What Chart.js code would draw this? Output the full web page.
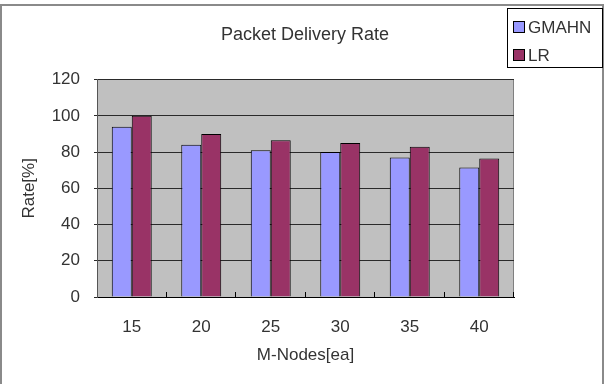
<!DOCTYPE html>
<html>
<head>
<meta charset="utf-8">
<title>Packet Delivery Rate</title>
<script src="https://cdn.jsdelivr.net/npm/chart.js@4"></script>
<style>
    body { margin: 0; background: #fff; }
    #wrap { width: 610px; height: 384px; }
</style>
</head>
<body>
<div id="wrap"><canvas id="rateChart" width="610" height="384"></canvas></div>
<script>
// Chart data
const categories = ['15', '20', '25', '30', '35', '40'];
const gmahnRates = [94, 84, 81, 80, 77, 71.5];
const lrRates = [100, 90, 86.5, 85, 83, 76.5];
const yMin = 0;
const yMax = 120;
const yStep = 20;

const textFont = { family: "'Liberation Sans', Arial, sans-serif", size: 17 };
const textColor = '#333';

// White page with grey frame, grey plot area
const frameAndPlot = {
    id: 'frameAndPlot',
    beforeDraw(chart) {
        const ctx = chart.ctx;
        const a = chart.chartArea;
        ctx.save();
        ctx.fillStyle = '#fff';
        ctx.fillRect(0, 0, chart.width, chart.height);
        ctx.strokeStyle = '#8a8a8a';
        ctx.lineWidth = 2;
        ctx.strokeRect(1, 5, 602, 390);
        ctx.fillStyle = '#c0c0c0';
        ctx.fillRect(a.left, a.top, a.right - a.left, a.bottom - a.top);
        ctx.strokeStyle = '#808080';
        ctx.lineWidth = 1;
        ctx.beginPath();
        ctx.moveTo(a.right - 0.5, a.top);
        ctx.lineTo(a.right - 0.5, a.bottom);
        ctx.stroke();
        ctx.restore();
    },
    // small inner tick marks between the categories
    afterDatasetsDraw(chart) {
        const ctx = chart.ctx;
        const x = chart.scales.x;
        const half = (x.getPixelForValue(1) - x.getPixelForValue(0)) / 2;
        const bottom = chart.chartArea.bottom;
        ctx.save();
        ctx.strokeStyle = '#000';
        ctx.lineWidth = 1;
        ctx.beginPath();
        for (let i = 0; i < categories.length; i++) {
            const px = Math.round(x.getPixelForValue(i) + half) - 0.5;
            ctx.moveTo(px, bottom);
            ctx.lineTo(px, bottom - 5);
        }
        ctx.stroke();
        ctx.restore();
    }
};

// Boxed legend in the top right corner
const boxLegend = {
    id: 'boxLegend',
    afterDraw(chart) {
        const ctx = chart.ctx;
        ctx.save();
        ctx.fillStyle = '#fff';
        ctx.fillRect(507, 8, 95, 59);
        ctx.strokeStyle = '#000';
        ctx.lineWidth = 1;
        ctx.strokeRect(507.5, 8.5, 95, 59);
        ctx.font = textFont.size + 'px ' + textFont.family;
        ctx.textBaseline = 'middle';
        chart.data.datasets.forEach(function(ds, i) {
            const y = 27 + i * 28;
            ctx.fillStyle = ds.backgroundColor;
            ctx.fillRect(513, y - 6, 11, 11);
            ctx.strokeStyle = '#000';
            ctx.strokeRect(513.5, y - 5.5, 11, 11);
            ctx.fillStyle = textColor;
            ctx.fillText(ds.label, 528, y + 1);
        });
        ctx.restore();
    }
};

const ctx = document.getElementById('rateChart').getContext('2d');
const rateChart = new Chart(ctx, {
    type: 'bar',
    data: {
        labels: categories,
        datasets: [
            {
                label: 'GMAHN',
                data: gmahnRates,
                backgroundColor: '#9999ff',
                borderColor: '#000',
                borderWidth: 1
            },
            {
                label: 'LR',
                data: lrRates,
                backgroundColor: '#993366',
                borderColor: '#000',
                borderWidth: 1
            }
        ]
    },
    options: {
        responsive: false,
        animation: false,
        categoryPercentage: 0.575,
        barPercentage: 1,
        layout: {
            padding: { left: 0, top: 0, right: 0, bottom: 0 }
        },
        plugins: {
            legend: { display: false },
            tooltip: { enabled: false },
            title: {
                display: true,
                text: 'Packet Delivery Rate',
                color: textColor,
                font: { family: textFont.family, size: 18, weight: 'normal' },
                padding: { top: 24, bottom: 34 }
            }
        },
        scales: {
            x: {
                grid: { display: false, drawTicks: false },
                border: { color: '#000', width: 1 },
                ticks: { color: textColor, font: textFont, padding: 20 },
                title: {
                    display: true,
                    text: 'M-Nodes[ea]',
                    color: textColor,
                    font: textFont,
                    padding: { top: 0, bottom: 18 }
                },
                afterFit: function(scale) { scale.height = 87; }
            },
            y: {
                min: yMin,
                max: yMax,
                grid: { color: '#2a2a2a', tickLength: 3 },
                border: { color: '#555', width: 1 },
                ticks: { stepSize: yStep, color: textColor, font: textFont, padding: 14 },
                title: {
                    display: true,
                    text: 'Rate[%]',
                    color: textColor,
                    font: textFont,
                    padding: { top: 19, bottom: 0 }
                },
                afterFit: function(scale) { scale.width = 97; }
            },
            // empty right axis, only keeps the space under the legend
            yRight: {
                position: 'right',
                min: yMin,
                max: yMax,
                grid: { display: false },
                border: { display: false },
                ticks: { display: false },
                afterFit: function(scale) { scale.width = 96; }
            }
        }
    },
    plugins: [frameAndPlot, boxLegend]
});
</script>
</body>
</html>
